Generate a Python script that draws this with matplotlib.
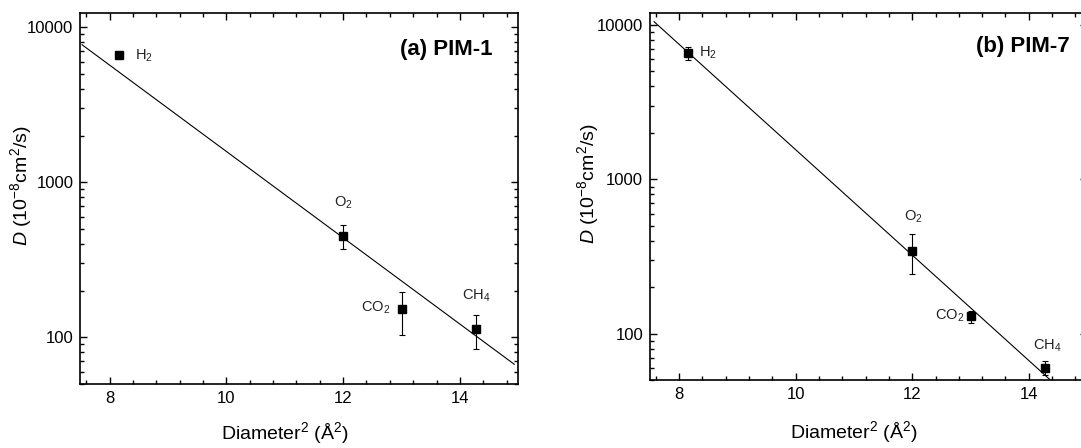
import numpy as np
import matplotlib
matplotlib.use("Agg")
import matplotlib.pyplot as plt
from matplotlib.ticker import MultipleLocator, LogLocator, FuncFormatter, NullFormatter

plt.rcParams['font.family'] = ['Liberation Sans', 'DejaVu Sans']
plt.rcParams['mathtext.fontset'] = 'custom'
plt.rcParams['mathtext.rm'] = 'Liberation Sans'
plt.rcParams['mathtext.it'] = 'Liberation Sans:italic'
plt.rcParams['mathtext.default'] = 'regular'

# gases and squared kinetic diameters (A^2)
gases = ['H$_2$', 'O$_2$', 'CO$_2$', 'CH$_4$']
diam2 = [8.16, 12.0, 13.0, 14.28]

# (a) PIM-1 diffusion coefficients, 1e-8 cm2/s
d_pim1 = [6620, 452, 152, 113]
d_pim1_hi = [6620, 530, 197, 139]
d_pim1_lo = [6620, 372, 103, 84]
fit_pim1_x = [7.53, 14.93]
fit_pim1_y = [7700, 67]
lab_pim1_x = [8.44, 12.0, 12.55, 14.28]
lab_pim1_y = [6500, 740, 156, 185]

# (b) PIM-7
d_pim7 = [6620, 344, 130, 60.3]
d_pim7_hi = [7240, 441, 141, 66.5]
d_pim7_lo = [5930, 245, 117, 54.6]
fit_pim7_x = [7.57, 14.40]
fit_pim7_y = [10500, 49.2]
lab_pim7_x = [8.34, 12.02, 12.64, 14.31]
lab_pim7_y = [6560, 571, 131, 84.4]

fig = plt.figure(figsize=(10.81, 4.48), dpi=100)
ax1 = fig.add_axes([0.0743, 0.1429, 0.4052, 0.8288])
ax2 = fig.add_axes([0.6013, 0.1507, 0.4043, 0.8196])

panels = [
    (ax1, d_pim1, d_pim1_hi, d_pim1_lo, fit_pim1_x, fit_pim1_y, lab_pim1_x, lab_pim1_y,
     '(a) PIM-1', (0.942, 0.90), 12400, (-0.135, 0.535), (0.467, -0.132),
     [True, False, False, False]),
    (ax2, d_pim7, d_pim7_hi, d_pim7_lo, fit_pim7_x, fit_pim7_y, lab_pim7_x, lab_pim7_y,
     '(b) PIM-7', (0.961, 0.909), 11900, (-0.142, 0.535), (0.467, -0.14),
     [False, False, False, False]),
]

for (ax, d, hi, lo, fx, fy, lx, ly, title, tpos, ytop, ylc, xlc, noerr) in panels:
    d = np.array(d, dtype=float)
    yerr = np.array([d - np.array(lo), np.array(hi) - d])
    for i in range(len(d)):
        if noerr[i]:
            ax.plot(diam2[i], d[i], 's', color='black', ms=5.5)
        else:
            ax.errorbar(diam2[i], d[i], yerr=yerr[:, i:i+1], fmt='s', color='black',
                        ms=5.5, capsize=2.5, elinewidth=0.8, capthick=0.8)
    ax.plot(fx, fy, color='black', lw=0.8)
    for g, x, y in zip(gases, lx, ly):
        ha = 'left' if g.startswith('H') else 'center'
        ax.text(x, y, g, fontsize=10.5, ha=ha, va='center', color='#222222')
    ax.text(tpos[0], tpos[1], title, transform=ax.transAxes, fontsize=16,
            fontweight='bold', ha='right', va='center')

    ax.set_yscale('log')
    ax.set_xlim(7.5, 15)
    ax.set_ylim(50, ytop)
    ax.xaxis.set_major_locator(MultipleLocator(2))
    ax.xaxis.set_minor_locator(MultipleLocator(0.4))
    ax.yaxis.set_major_locator(LogLocator(base=10))
    ax.yaxis.set_minor_locator(LogLocator(base=10, subs=np.arange(2, 10)))
    ax.yaxis.set_major_formatter(FuncFormatter(lambda v, p: '%d' % v))
    ax.yaxis.set_minor_formatter(NullFormatter())
    ax.tick_params(which='both', direction='in', top=True, right=True,
                   width=1.0, labelsize=12, colors='black', pad=5)
    ax.tick_params(which='major', length=4.7)
    ax.tick_params(which='minor', length=2.9)
    for s in ax.spines.values():
        s.set_linewidth(1.2)

    ax.set_ylabel(r'$\mathit{D}$ (10$^{-8}$cm$^2$/s)', fontsize=14, va='center')
    ax.yaxis.set_label_coords(*ylc)
    ax.set_xlabel('Diameter$^2$ (Å$^2$)', fontsize=14, va='center')
    ax.xaxis.set_label_coords(*xlc)

fig.savefig('out.png', dpi=100)
